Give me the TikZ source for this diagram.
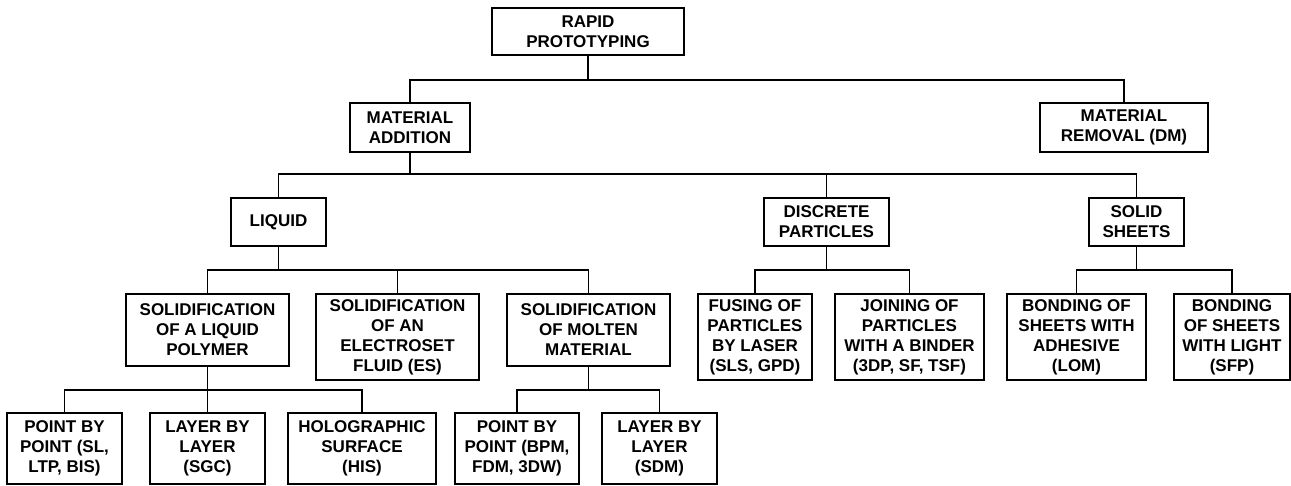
\documentclass[tikz,border=0pt]{standalone}
\usepackage{fontspec}
\setmainfont{Liberation Sans}
\begin{document}
\begin{tikzpicture}[x=1pt,y=-1pt,
  box/.style={draw, line width=1.4pt, rectangle, inner sep=0pt, align=center,
    font=\fontsize{17}{20}\selectfont\bfseries},
  link/.style={line width=1.4pt}]
\useasboundingbox (0,0) rectangle (1291,485);
% level 0
\node[box, minimum width=192, minimum height=47] (rp) at (588,31.5) {RAPID\\PROTOTYPING};
% level 1
\node[box, minimum width=120, minimum height=49] (ma) at (410,127.5) {MATERIAL\\ADDITION};
\node[box, minimum width=168, minimum height=49] (mr) at (1124,127.5) {MATERIAL\\REMOVAL (DM)};
% level 2
\node[box, minimum width=95, minimum height=48] (liq) at (278.5,222) {LIQUID};
\node[box, minimum width=125, minimum height=48] (dp) at (826.5,222) {DISCRETE\\PARTICLES};
\node[box, minimum width=95, minimum height=48] (ss) at (1136.5,222) {SOLID\\SHEETS};
% level 3
\node[box, minimum width=163, minimum height=72] (sp) at (207.5,330) {SOLIDIFICATION\\OF A LIQUID\\POLYMER};
\node[box, minimum width=163, minimum height=86] (ses) at (397.5,337) {SOLIDIFICATION\\OF AN\\ELECTROSET\\FLUID (ES)};
\node[box, minimum width=163, minimum height=72] (sm) at (588.5,330) {SOLIDIFICATION\\OF MOLTEN\\MATERIAL};
\node[box, minimum width=114, minimum height=86] (fus) at (755,337) {FUSING OF\\PARTICLES\\BY LASER\\(SLS, GPD)};
\node[box, minimum width=149, minimum height=86] (join) at (909.5,337) {JOINING OF\\PARTICLES\\WITH A BINDER\\(3DP, SF, TSF)};
\node[box, minimum width=139, minimum height=86] (bad) at (1076.5,337) {BONDING OF\\SHEETS WITH\\ADHESIVE\\(LOM)};
\node[box, minimum width=116, minimum height=86] (bl) at (1232,337) {BONDING\\OF SHEETS\\WITH LIGHT\\(SFP)};
% level 4
\node[box, minimum width=115, minimum height=71] (p1) at (64.5,448.5) {POINT BY\\POINT (SL,\\LTP, BIS)};
\node[box, minimum width=115, minimum height=71] (l1) at (207.5,448.5) {LAYER BY\\LAYER\\(SGC)};
\node[box, minimum width=148, minimum height=71] (ho) at (362,448.5) {HOLOGRAPHIC\\SURFACE\\(HIS)};
\node[box, minimum width=124, minimum height=71] (p2) at (517,448.5) {POINT BY\\POINT (BPM,\\FDM, 3DW)};
\node[box, minimum width=115, minimum height=71] (l2) at (659.5,448.5) {LAYER BY\\LAYER\\(SDM)};
% connectors
\foreach \p/\c/\y in {rp/ma/80, rp/mr/80,
  ma/liq/174, ma/dp/174, ma/ss/174,
  liq/sp/270, liq/ses/270, liq/sm/270,
  dp/fus/270, dp/join/270, ss/bad/270, ss/bl/270,
  sp/p1/390, sp/l1/390, sp/ho/390, sm/p2/390, sm/l2/390}
  \draw[link] (\p.south) -- (\p.south |- 0,\y) -| (\c.north);
\end{tikzpicture}
\end{document}
